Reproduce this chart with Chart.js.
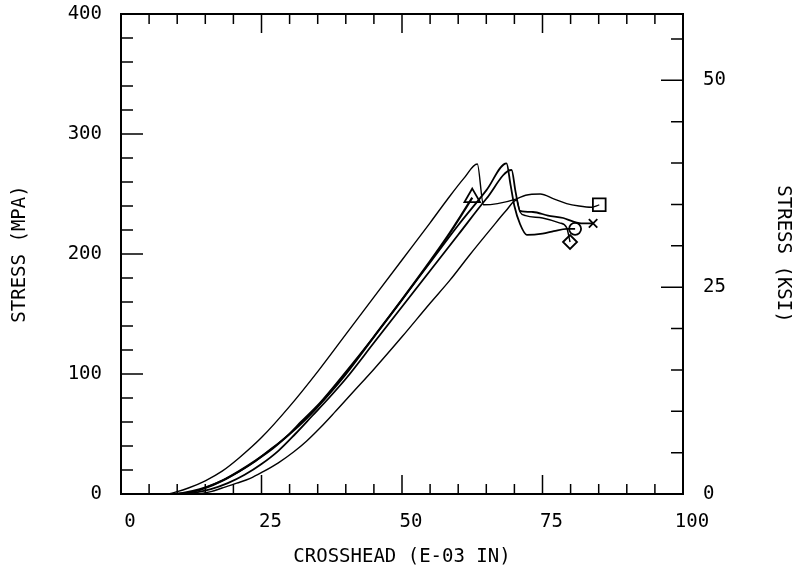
<!DOCTYPE html>
<html>
<head>
<meta charset="utf-8">
<script src="https://cdn.jsdelivr.net/npm/chart.js@4.4.1/dist/chart.umd.min.js"></script>
<style>
  html, body { margin: 0; padding: 0; background: #fff; }
  #wrap { width: 792px; height: 577px; }
</style>
</head>
<body>
<div id="wrap"><canvas id="chart" width="792" height="577"></canvas></div>
<script>
// crosshead displacement (E-03 in) vs stress (MPa), five specimens
var aX = [0, 8, 10, 12, 15, 18, 21, 25, 30, 35, 40, 45, 50, 55, 58, 61, 63.4, 64.5, 67, 70.4, 72, 74.6, 77, 79.3, 81.5, 83.7, 85.1];
var aY = [0, 0, 2, 5, 11, 19, 30, 47, 73, 102, 133, 164, 195, 226, 245, 263, 275, 241, 242, 246, 249, 250, 246, 242, 240, 239, 241];

var bX = [0, 8, 11, 14, 17, 20, 23.5, 26, 29.5, 32, 35.4, 39, 45, 50, 55, 60, 65, 68.6, 69.3, 70, 71, 72.2, 75, 77, 79.3, 80.8];
var bY = [0, 0, 1, 4, 9, 16, 26, 35, 48, 60, 76, 96, 131, 162, 193, 224, 253, 275.5, 258, 240, 225, 216, 217, 219, 221, 221];

var cX = [0, 10, 13, 16, 19, 22, 25, 28, 31, 34, 37, 40, 45, 50, 55, 60, 65, 69.5, 70.2, 71, 73.3, 76, 78.7, 80.5, 82.2, 84];
var cY = [0, 0, 1, 4, 9, 16, 25, 36, 50, 65, 80, 96, 126, 156, 186, 216, 246, 270, 252, 236, 235, 232, 230, 227, 225.5, 225.5];

var dX = [0, 13, 16, 18, 20.6, 23, 25.3, 28, 30.7, 33, 35.4, 38, 41.3, 45, 50, 55, 58.5, 62, 66, 68.5, 70.4, 71, 72, 75, 78, 79.3, 79.9];
var dY = [0, 0, 2, 5, 9, 13, 18.6, 26, 35, 44, 55, 68, 85, 104, 131, 159, 178, 199, 222, 236, 245, 235, 232, 230, 226, 222, 210];

var eX = [0, 9, 12, 15, 18, 21, 24, 27, 30, 33, 36, 40, 45, 50, 55, 58, 60.5, 62.5];
var eY = [0, 0, 1, 5, 11, 19, 28, 38, 50, 63, 78, 100, 131, 162, 194, 214, 232, 247];

var xTicks = [0, 25, 50, 75, 100];
var mpaTicks = [0, 100, 200, 300, 400];
var ksiTicks = [0, 25, 50];
var MPA_PER_KSI = 6.894757;

function pts(xs, ys) {
    return xs.map(function (x, i) { return { x: x, y: ys[i] }; });
}

function curve(xs, ys, marker, size, width) {
    var last = xs.length - 1;
    return {
        data: pts(xs, ys),
        borderColor: '#000',
        borderWidth: width,
        backgroundColor: 'rgba(0,0,0,0)',
        cubicInterpolationMode: 'monotone',
        pointStyle: marker,
        pointRadius: function (ctx) { return ctx.dataIndex === last ? size : 0; },
        pointBorderColor: '#000',
        pointBorderWidth: 1.8,
        pointBackgroundColor: 'rgba(0,0,0,0)'
    };
}

var plotFont = { family: 'DejaVu Sans Mono', size: 19 };

// inward tick marks and the heavy frame, placed through the chart's scales
var framePlugin = {
    id: 'frame',
    afterDraw: function (chart) {
        var c = chart.ctx, a = chart.chartArea;
        var sx = chart.scales.x, sy = chart.scales.y, sk = chart.scales.y2;
        c.save();
        c.strokeStyle = '#000';
        c.lineWidth = 1.5;
        c.beginPath();
        for (var v = 0; v <= 100; v += 5) {
            var px = sx.getPixelForValue(v);
            var len = v % 25 === 0 ? 19 : 10;
            c.moveTo(px, a.bottom); c.lineTo(px, a.bottom - len);
            c.moveTo(px, a.top); c.lineTo(px, a.top + len);
        }
        for (var m = 0; m <= 400; m += 20) {
            var py = sy.getPixelForValue(m);
            c.moveTo(a.left, py); c.lineTo(a.left + (m % 100 === 0 ? 22 : 12), py);
        }
        for (var k = 0; k <= 55; k += 5) {
            var pk = sk.getPixelForValue(k);
            c.moveTo(a.right, pk); c.lineTo(a.right - (k % 25 === 0 ? 22 : 12), pk);
        }
        c.stroke();
        c.lineWidth = 2;
        c.strokeRect(a.left, a.top, a.right - a.left, a.bottom - a.top);
        c.restore();
    }
};

function fixWidth(w) {
    return function (s) { s.width = w; s.paddingTop = 0; s.paddingBottom = 0; };
}

new Chart(document.getElementById('chart'), {
    type: 'line',
    data: {
        datasets: [
            curve(aX, aY, 'rect', 9, 1.4),
            curve(bX, bY, 'circle', 6, 1.8),
            curve(cX, cY, 'crossRot', 6, 1.8),
            curve(dX, dY, 'rectRot', 7, 1.4),
            curve(eX, eY, 'triangle', 9, 2.2)
        ]
    },
    options: {
        responsive: false,
        animation: false,
        layout: { padding: { top: 14, left: 0, right: 0, bottom: 0 } },
        plugins: { legend: { display: false }, tooltip: { enabled: false } },
        scales: {
            x: {
                type: 'linear', min: 0, max: 100, position: 'bottom',
                afterFit: function (s) { s.height = 83; s.paddingLeft = 0; s.paddingRight = 0; },
                afterBuildTicks: function (s) { s.ticks = xTicks.map(function (v) { return { value: v }; }); },
                grid: { display: false }, border: { display: false },
                ticks: { padding: 9, labelOffset: 9, color: '#000', font: plotFont },
                title: { display: true, text: 'CROSSHEAD (E-03 IN)', color: '#000', font: plotFont, padding: { top: 0, bottom: 9 } }
            },
            y: {
                type: 'linear', min: 0, max: 400, position: 'left',
                afterFit: fixWidth(121),
                afterBuildTicks: function (s) { s.ticks = mpaTicks.map(function (v) { return { value: v }; }); },
                grid: { display: false }, border: { display: false },
                ticks: { padding: 11, color: '#000', font: plotFont },
                title: { display: true, text: 'STRESS (MPA)', color: '#000', font: plotFont, padding: { top: 9, bottom: 0 } }
            },
            y2: {
                type: 'linear', min: 0, max: 400 / MPA_PER_KSI, position: 'right',
                afterFit: fixWidth(109),
                afterBuildTicks: function (s) { s.ticks = ksiTicks.map(function (v) { return { value: v }; }); },
                grid: { display: false }, border: { display: false },
                ticks: { padding: 12, color: '#000', font: plotFont },
                title: { display: true, text: 'STRESS (KSI)', color: '#000', font: plotFont, padding: { top: -2, bottom: 0 } }
            }
        }
    },
    plugins: [framePlugin]
});
</script>
</body>
</html>
